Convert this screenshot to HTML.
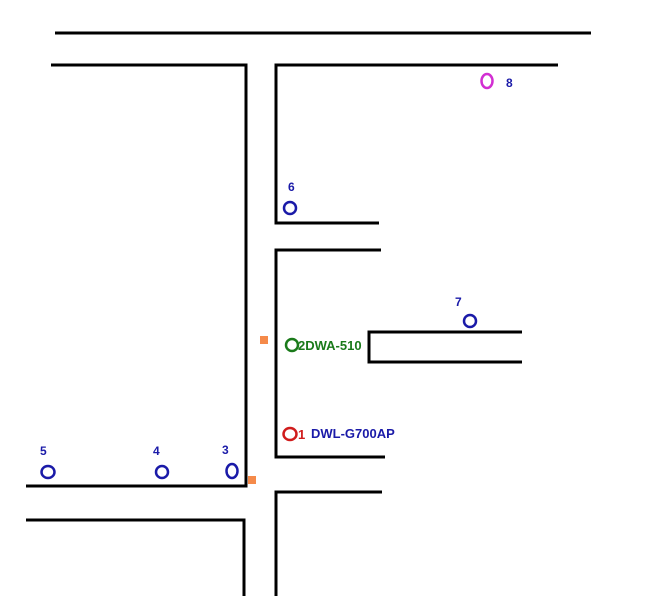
<!DOCTYPE html>
<html><head><style>body{margin:0;background:#fff}</style></head><body>
<svg width="663" height="596" xmlns="http://www.w3.org/2000/svg" style="display:block">
<g stroke="#000" stroke-width="3" fill="none">
<line x1="55" y1="33" x2="591" y2="33"/>
<polyline points="51,65 246,65 246,486 26,486"/>
<polyline points="558,65 276,65 276,223 379,223"/>
<polyline points="381,250 276,250 276,457 385,457"/>
<polyline points="522,332 369,332 369,362 522,362"/>
<polyline points="26,520 244,520 244,596"/>
<polyline points="382,492 276,492 276,596"/>
</g>
<rect x="260" y="336" width="8" height="8" fill="#f58a4a"/>
<rect x="248" y="476" width="8" height="8" fill="#f58a4a"/>
<g fill="none" stroke-width="2.5">
<ellipse cx="487" cy="81" rx="5.5" ry="7" stroke="#d22fd2"/>
<ellipse cx="290" cy="208" rx="6" ry="6" stroke="#1a1aa8"/>
<ellipse cx="470" cy="321" rx="6" ry="6" stroke="#1a1aa8"/>
<ellipse cx="292" cy="345" rx="6" ry="6" stroke="#1a7a1a"/>
<ellipse cx="290" cy="434" rx="6.5" ry="6" stroke="#d01c1c"/>
<ellipse cx="48" cy="472" rx="6.5" ry="6" stroke="#1a1aa8"/>
<ellipse cx="162" cy="472" rx="6" ry="6" stroke="#1a1aa8"/>
<ellipse cx="232" cy="471" rx="5.5" ry="7" stroke="#1a1aa8"/>
</g>
<g font-family="Liberation Sans, sans-serif" font-weight="bold" font-size="12">
<text x="506" y="87" fill="#1a1aa8">8</text>
<text x="288" y="191" fill="#1a1aa8">6</text>
<text x="455" y="306" fill="#1a1aa8">7</text>
<text x="298" y="350" fill="#1a7a1a" font-size="13">2DWA-510</text>
<text x="298" y="439" fill="#d01c1c" font-size="13">1</text>
<text x="311" y="438" fill="#1a1aa8" font-size="13">DWL-G700AP</text>
<text x="40" y="455" fill="#1a1aa8">5</text>
<text x="153" y="455" fill="#1a1aa8">4</text>
<text x="222" y="454" fill="#1a1aa8">3</text>
</g>
</svg>
</body></html>
